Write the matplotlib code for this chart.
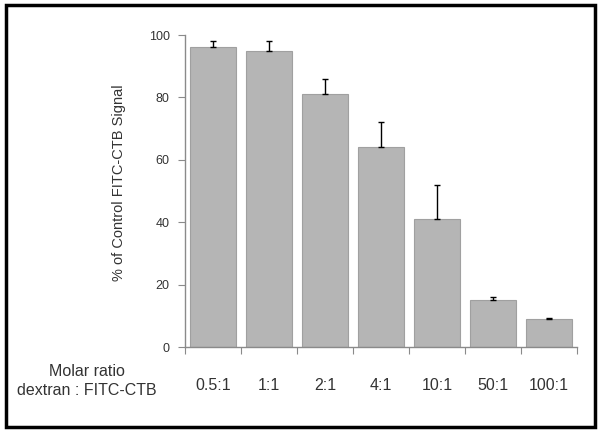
import numpy as np
import matplotlib
matplotlib.use("Agg")
import matplotlib.pyplot as plt
from matplotlib.patches import Rectangle

plt.rcParams["font.family"] = ["Liberation Sans", "DejaVu Sans"]

# 数据
ratios = ["0.5:1", "1:1", "2:1", "4:1", "10:1", "50:1", "100:1"]
signal = [96, 95, 81, 64, 41, 15, 9]
signal_err = [2, 3, 5, 8, 11, 1, 0.3]

text_color = "#333333"
axis_color = "#8a8a8a"

fig = plt.figure(figsize=(6.01, 4.32), dpi=100)
ax = fig.add_axes([185 / 601, 85 / 432, 392 / 601, 312 / 432])

x = np.arange(len(ratios)) + 0.5

ax.bar(x, signal, width=0.82, color="#b5b5b5", edgecolor="#a0a0a0", linewidth=0.8, zorder=2)
ax.errorbar(x, signal, yerr=[np.zeros(len(signal)), signal_err], fmt="none",
            ecolor="black", elinewidth=1, capsize=2.5, capthick=1, zorder=3)

ax.set_xlim(0, len(ratios))
ax.set_ylim(0, 100)

# 坐标轴样式
for side in ["top", "right"]:
    ax.spines[side].set_visible(False)
for side in ["left", "bottom"]:
    ax.spines[side].set_color(axis_color)
    ax.spines[side].set_linewidth(1)

ax.set_yticks([0, 20, 40, 60, 80, 100])
ax.tick_params(axis="y", direction="out", length=5, color=axis_color,
               labelsize=9, labelcolor=text_color, pad=6)

# 主刻度在分隔处，类别名放在次刻度
ax.set_xticks(np.arange(len(ratios) + 1))
ax.set_xticklabels([])
ax.tick_params(axis="x", which="major", direction="out", length=5, color=axis_color)
ax.set_xticks(x, minor=True)
ax.set_xticklabels(ratios, minor=True)
ax.tick_params(axis="x", which="minor", length=0, labelsize=11.5,
               labelcolor=text_color, pad=22)

ax.set_ylabel("% of Control FITC-CTB Signal", fontsize=10.5, color=text_color)
ax.yaxis.set_label_coords(-0.15, 0.526)

fig.text(87 / 601, 1 - 381 / 432, "Molar ratio\ndextran : FITC-CTB",
         ha="center", va="center", fontsize=11.5, color=text_color, linespacing=1.3)

# 外框
fig.patches.append(Rectangle((6 / 601, 5 / 432), 589 / 601, 422 / 432,
                             transform=fig.transFigure, fill=False,
                             edgecolor="black", linewidth=2.5))

fig.savefig("out.png", dpi=100)
